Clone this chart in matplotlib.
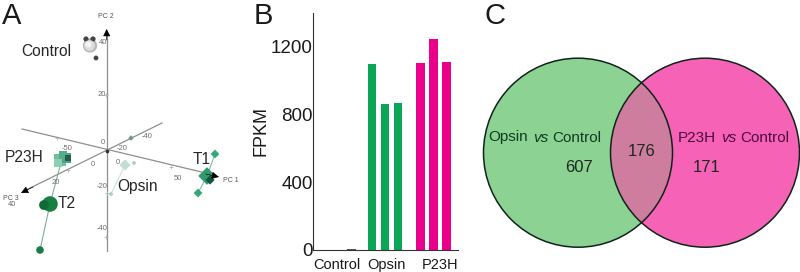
import matplotlib
matplotlib.use('Agg')
import matplotlib.pyplot as plt
from matplotlib.patches import Circle

plt.rcParams['font.family'] = ['Liberation Sans', 'DejaVu Sans']

W, H = 800, 272

# panel A in image pixels
pc_axes_x = [[22, 214], [162, 24], [106.7, 106.7]]
pc_axes_y = [[129, 175], [123, 191], [251, 35]]
arrow_tips = [(219, 177), (21, 193), (106.7, 29)]
arrow_tails = [(206, 174), (33, 187), (106.7, 40)]

pc_ticks = [(103, 42, '40'), (102, 94, '20'), (103, 142, '0'), (102, 187, '-20'), (102, 228, '-40'),
            (67, 149, '-50'), (93, 164, '0'), (178, 178, '50'), (147, 136, '-40'),
            (122, 149, '-20'), (118, 163, '0'), (56, 183, '20'), (12, 205, '40')]
pc_names = [(106, 17, 'PC 2'), (231, 181, 'PC 1'), (11, 198, 'PC 3')]
tick_marks_x = [57, 171, 68, 106, 106, 107]
tick_marks_y = [138, 167, 170, 95, 237, 193]

group_labels = [(46, 51, 'Control'), (24, 158, 'P23H'), (138, 186, 'Opsin'), (67, 204, 'T2'), (202, 160, 'T1')]

ctrl_x = [90, 86, 93, 96]
ctrl_y = [45.5, 39, 39, 58]
ctrl_s = [105, 14, 14, 12]

p23h_x = [60, 66, 58, 63, 68]
p23h_y = [160, 158, 163, 155, 158]
p23h_s = [70, 60, 40, 35, 16]

opsin_x = [125, 134, 111, 131]
opsin_y = [165, 163, 194, 138]
opsin_s = [32, 6, 6, 8]

t1_x = [207, 215, 198, 210]
t1_y = [176, 154, 193, 180]
t1_s = [80, 20, 20, 22]

t2_x = [50, 44, 40]
t2_y = [204, 205, 250]
t2_s = [125, 50, 30]

# panel B
bar_labels = ['Control', 'Opsin', 'P23H']
control_vals = [0, 0, 5]
opsin_vals = [1100, 863, 869]
p23h_vals = [1107, 1245, 1113]
fpkm_ticks = [0, 400, 800, 1200]

# panel C
left_center, right_center, radius = (578, 152.7), (705, 152.7), 94.5
venn_counts = [(578.5, 167, '607'), (642, 152, '176'), (706.7, 167, '171')]

fig = plt.figure(figsize=(W / 100, H / 100), dpi=100, facecolor='white')

# ---- A ----
ax = fig.add_axes([0, 0, 250 / W, 1])
ax.set_xlim(0, 250)
ax.set_ylim(H, 0)
ax.axis('off')

ax.text(2, 24, 'A', fontsize=21, color='#1a1a1a', va='baseline')

for xs, ys in zip(pc_axes_x, pc_axes_y):
    ax.plot(xs, ys, color='#8f8f8f', lw=0.9, zorder=1)
for tip, tail in zip(arrow_tips, arrow_tails):
    ax.annotate('', xy=tip, xytext=tail, zorder=6,
                arrowprops=dict(arrowstyle='-|>', color='black', lw=0.5, mutation_scale=11, shrinkA=0, shrinkB=0))
ax.scatter(tick_marks_x, tick_marks_y, s=8, marker='+', c='#b5b5b5', linewidths=0.6, zorder=1)
ax.scatter([106.5], [150.5], s=7, c='#333333', linewidths=0, zorder=2)

for x, y, s in pc_ticks:
    ax.text(x, y, s, fontsize=5.5, color='#6e6e6e', ha='center', va='center')
for x, y, s in pc_names:
    ax.text(x, y, s, fontsize=5, color='#555555', ha='center', va='center')
for x, y, s in group_labels:
    ax.text(x, y, s, fontsize=11.2, color='#262626', ha='center', va='center')

# faint link lines between the replicate points
ax.plot([t1_x[2], t1_x[0], t1_x[1]], [t1_y[2], t1_y[0], t1_y[1]], color='#7fbfa5', lw=0.8, zorder=2)
ax.plot([t2_x[2], t2_x[0], p23h_x[3]], [t2_y[2], t2_y[0], p23h_y[3]], color='#7fae98', lw=0.8, zorder=2)
ax.plot([opsin_x[2], opsin_x[0]], [opsin_y[2], opsin_y[0]], color='#cfe3dc', lw=0.8, zorder=2)

ax.scatter(ctrl_x, ctrl_y, s=ctrl_s, c=['#b8b8b8', '#444444', '#444444', '#444444'], linewidths=0, zorder=3)
ax.scatter(89, 44.5, s=60, c='#dcdcdc', linewidths=0, zorder=4)
ax.scatter(88, 43.5, s=20, c='#f4f4f4', linewidths=0, zorder=4)
ax.scatter(p23h_x, p23h_y, s=p23h_s, marker='s', c=['#6dbfa0', '#4fa585', '#8bd0b5', '#55ab8a', '#1f5f46'],
           linewidths=0, zorder=3)
ax.scatter(opsin_x, opsin_y, s=opsin_s, marker='D', c=['#c3ddd5', '#a8cfc1', '#a8cfc1', '#6f9c8b'], linewidths=0, zorder=3)
ax.scatter(t1_x, t1_y, s=t1_s, marker='D', c=['#2f9a6f', '#35a878', '#35a878', '#11573c'], linewidths=0, zorder=3)
ax.scatter(t2_x, t2_y, s=t2_s, c=['#15803f', '#0f6a35', '#1a7a48'], linewidths=0, zorder=3)

# ---- B ----
# spine at x=312.5, baseline y=250, top y=13
bx = fig.add_axes([312.5 / W, (H - 250) / H, (458 - 312.5) / W, (250 - 13) / H])
bx.bar([0, 1, 2], control_vals, width=0.645, color='#555555')
bx.bar([3.56, 4.56, 5.56], opsin_vals, width=0.645, color='#0aa655')
bx.bar([7.3, 8.3, 9.3], p23h_vals, width=0.645, color='#ea008a')
bx.set_xlim(-1.015, 10.18)
bx.set_ylim(0, 1400)
bx.set_yticks(fpkm_ticks)
bx.set_yticklabels([str(v) for v in fpkm_ticks], fontsize=13.5, color='#1a1a1a')
bx.set_xticks([0.85, 4.69, 8.8])
bx.set_xticklabels(bar_labels, fontsize=10.5, color='#1a1a1a')
bx.tick_params(axis='y', length=0, pad=0)
bx.tick_params(axis='x', length=0, pad=6)
bx.spines['top'].set_visible(False)
bx.spines['right'].set_visible(False)
bx.spines['left'].set_color('#333333')
bx.spines['bottom'].set_color('#333333')
bx.patch.set_alpha(0)
fig.text(261 / W, 1 - 131 / H, 'FPKM', fontsize=13, color='#1a1a1a', rotation=90, ha='center', va='center')
fig.text(254 / W, 1 - 24 / H, 'B', fontsize=21, color='#1a1a1a', va='baseline')

# ---- C ----
cx = fig.add_axes([460 / W, 0, 340 / W, 1])
cx.set_xlim(460, 800)
cx.set_ylim(H, 0)
cx.axis('off')

cx.add_patch(Circle(left_center, radius, facecolor='#8bd293', edgecolor='none', zorder=1))
cx.add_patch(Circle(right_center, radius, facecolor='#f662b6', edgecolor='none', zorder=2))
overlap = Circle(left_center, radius, facecolor='#cf7d9e', edgecolor='none', zorder=3)
cx.add_patch(overlap)
overlap.set_clip_path(Circle(right_center, radius, transform=cx.transData))
cx.add_patch(Circle(left_center, radius, fill=False, edgecolor='#10231a', lw=1.1, zorder=4))
cx.add_patch(Circle(right_center, radius, fill=False, edgecolor='#10231a', lw=1.1, zorder=4))

cx.text(488, 137.5, 'Opsin', fontsize=11, color='#0f3b22', va='center')
cx.text(533, 137.5, 'vs', fontsize=11, style='italic', color='#0f3b22', va='center')
cx.text(552.5, 137.5, 'Control', fontsize=11, color='#0f3b22', va='center')
cx.text(677.5, 137.5, 'P23H', fontsize=11, color='#4d0a3a', va='center')
cx.text(721, 137.5, 'vs', fontsize=11, style='italic', color='#4d0a3a', va='center')
cx.text(740, 137.5, 'Control', fontsize=11, color='#4d0a3a', va='center')
for x, y, s in venn_counts:
    cx.text(x, y, s, fontsize=12, color='#1c2a20', ha='center', va='center', zorder=5)

cx.text(485, 24, 'C', fontsize=21, color='#1a1a1a', va='baseline', ha='left')

plt.savefig('out.png', dpi=100)
